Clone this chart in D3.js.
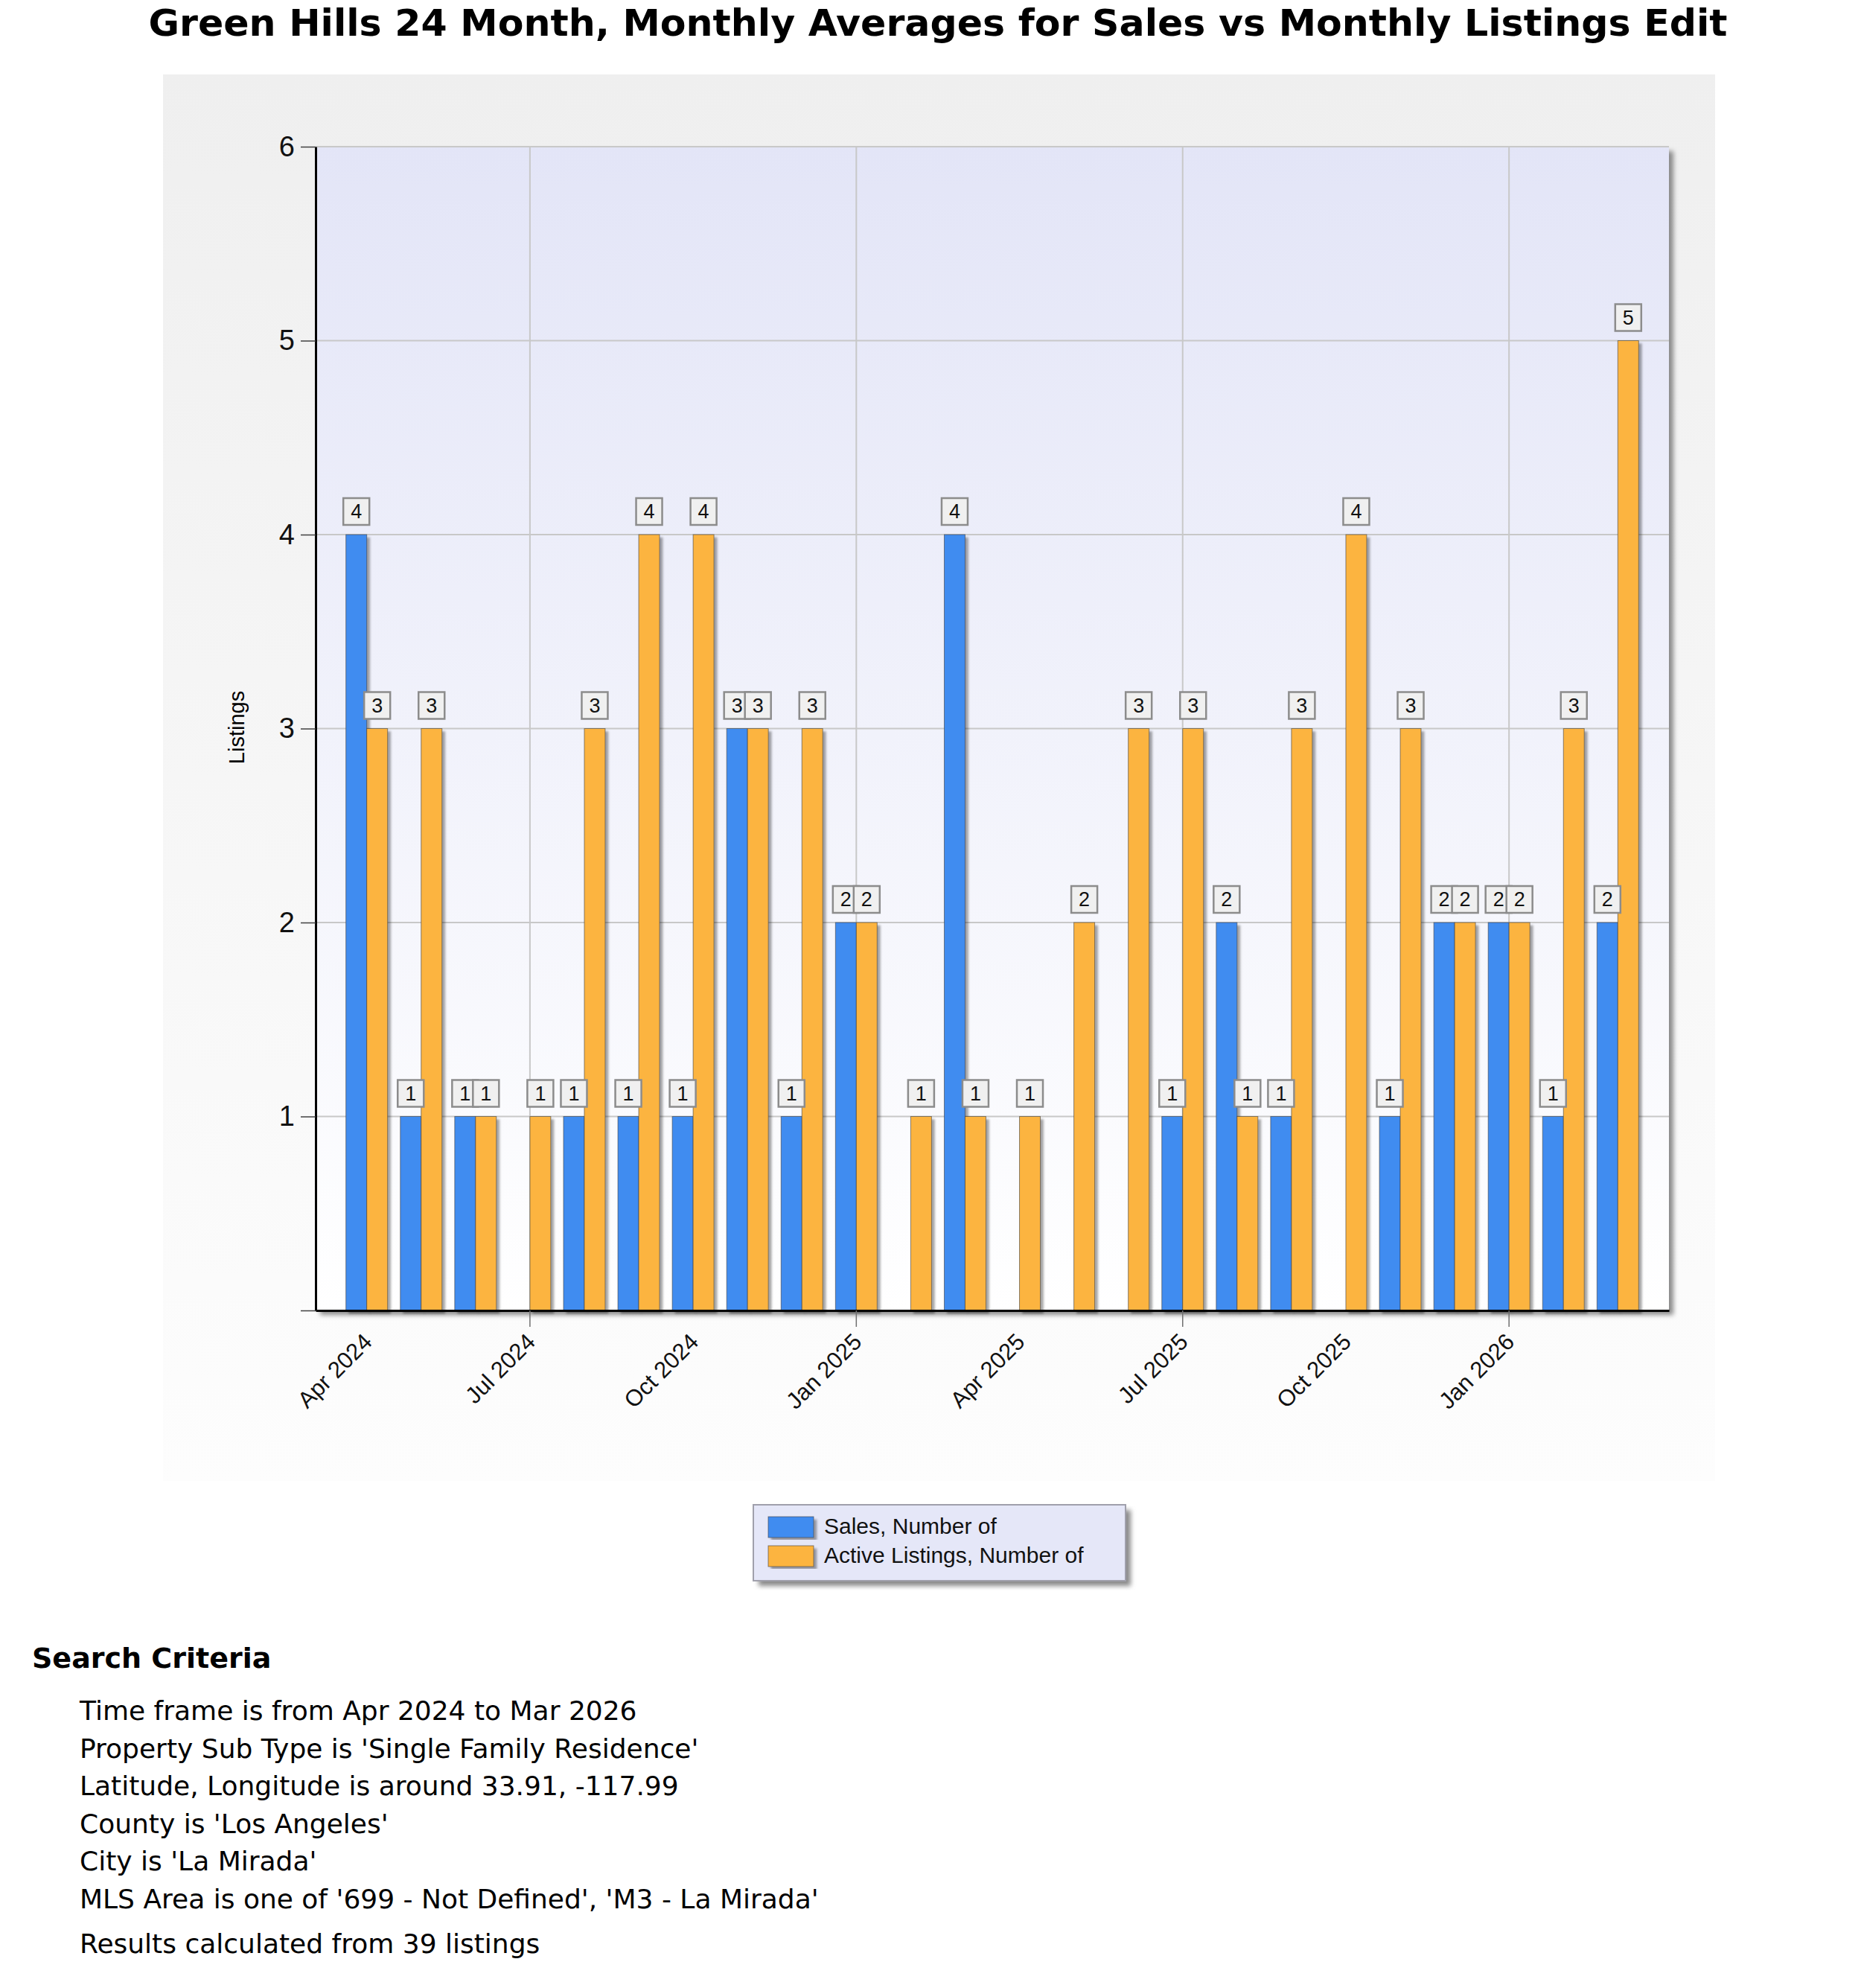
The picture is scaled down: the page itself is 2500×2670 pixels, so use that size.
<!DOCTYPE html>
<html>
<head>
<meta charset="utf-8">
<script src="https://cdn.jsdelivr.net/npm/d3@7"></script>
<style>
  body { margin: 0; background: #fff; }
  svg { display: block; }
</style>
</head>
<body>
<div id="chart"></div>
<script>
// ---------- data ----------
const months = [
  "Apr 2024", "May 2024", "Jun 2024", "Jul 2024", "Aug 2024", "Sep 2024",
  "Oct 2024", "Nov 2024", "Dec 2024", "Jan 2025", "Feb 2025", "Mar 2025",
  "Apr 2025", "May 2025", "Jun 2025", "Jul 2025", "Aug 2025", "Sep 2025",
  "Oct 2025", "Nov 2025", "Dec 2025", "Jan 2026", "Feb 2026", "Mar 2026"
];
const sales  = [4, 1, 1, 0, 1, 1, 1, 3, 1, 2, 0, 4, 0, 0, 0, 1, 2, 1, 0, 1, 2, 2, 1, 2];
const active = [3, 3, 1, 1, 3, 4, 4, 3, 3, 2, 1, 1, 1, 2, 3, 3, 1, 3, 4, 3, 2, 2, 3, 5];
const seriesNames = ["Sales, Number of", "Active Listings, Number of"];
const yTicks = [0, 1, 2, 3, 4, 5, 6];
const labelMonths = months.filter((m, i) => i % 3 === 0);
const gridMonths = months.filter((m, i) => i % 6 === 3);

const chartTitle = "Green Hills 24 Month, Monthly Averages for Sales vs Monthly Listings Edit";
const yTitle = "Listings";
const criteriaTitle = "Search Criteria";
const criteria = [
  "Time frame is from Apr 2024 to Mar 2026",
  "Property Sub Type is 'Single Family Residence'",
  "Latitude, Longitude is around 33.91, -117.99",
  "County is 'Los Angeles'",
  "City is 'La Mirada'",
  "MLS Area is one of '699 - Not Defined', 'M3 - La Mirada'"
];
const footnote = "Results calculated from 39 listings";

// ---------- layout ----------
const W = 2500, H = 2670;
const panel = { x: 219, y: 100, w: 2085, h: 1889 };
const plot = { left: 424, right: 2242, top: 197, bottom: 1760 };
const colors = ["#418CF0", "#FCB441"];
const sans = "Arial, 'Liberation Sans', sans-serif";
const verdana = "Verdana, 'DejaVu Sans', sans-serif";

const svg = d3.select("#chart").append("svg")
  .attr("width", W).attr("height", H)
  .attr("viewBox", `0 0 ${W} ${H}`);

const defs = svg.append("defs");
const pg = defs.append("linearGradient").attr("id", "panelGrad").attr("x1", 0).attr("y1", 0).attr("x2", 0).attr("y2", 1);
pg.append("stop").attr("offset", "0%").attr("stop-color", "#efefef");
pg.append("stop").attr("offset", "100%").attr("stop-color", "#fdfdfd");
const ag = defs.append("linearGradient").attr("id", "plotGrad").attr("x1", 0).attr("y1", 0).attr("x2", 0).attr("y2", 1);
ag.append("stop").attr("offset", "0%").attr("stop-color", "#e3e5f7");
ag.append("stop").attr("offset", "100%").attr("stop-color", "#ffffff");
defs.append("filter").attr("id", "blur").attr("x", "-5%").attr("y", "-5%").attr("width", "110%").attr("height", "110%")
  .append("feGaussianBlur").attr("stdDeviation", 3);
defs.append("filter").attr("id", "barShadow").attr("x", "-50%").attr("y", "-10%").attr("width", "200%").attr("height", "120%")
  .append("feDropShadow").attr("dx", 4).attr("dy", 4).attr("stdDeviation", 1.5)
  .attr("flood-color", "#000").attr("flood-opacity", 0.35);

// ---------- title ----------
const title = svg.append("text")
  .attr("x", 1260).attr("y", 48)
  .attr("text-anchor", "middle")
  .style("font-family", verdana).style("font-weight", "bold").style("font-size", "46px")
  .text(chartTitle);
// fit to the reference width
const tLen = title.node().getComputedTextLength();
title.style("font-size", (46 * 2122 / tLen).toFixed(1) + "px");

// ---------- panel + plot background ----------
svg.append("rect").attr("x", panel.x).attr("y", panel.y).attr("width", panel.w).attr("height", panel.h)
  .attr("fill", "url(#panelGrad)");

svg.append("rect")
  .attr("x", plot.left + 6).attr("y", plot.top + 6)
  .attr("width", plot.right - plot.left).attr("height", plot.bottom - plot.top)
  .attr("fill", "#8a8a8a").attr("filter", "url(#blur)");
svg.append("rect")
  .attr("x", plot.left).attr("y", plot.top)
  .attr("width", plot.right - plot.left).attr("height", plot.bottom - plot.top)
  .attr("fill", "url(#plotGrad)");

// ---------- scales ----------
const x0 = d3.scaleBand().domain(months).range([plot.left, plot.right])
  .paddingInner(0.234).paddingOuter(0.557);
const x1 = d3.scaleBand().domain([0, 1]).range([0, x0.bandwidth()]);
const y = d3.scaleLinear().domain([0, 6]).range([plot.bottom, plot.top]);

// ---------- grid ----------
const grid = svg.append("g").attr("stroke", "#c8c8c8").attr("stroke-width", 2);
grid.selectAll("line.h").data(yTicks.filter(d => d > 0)).join("line")
  .attr("class", "h")
  .attr("x1", plot.left).attr("x2", plot.right)
  .attr("y1", d => y(d)).attr("y2", d => y(d));
grid.selectAll("line.v").data(gridMonths).join("line")
  .attr("class", "v")
  .attr("x1", d => x0(d) + x0.bandwidth() / 2).attr("x2", d => x0(d) + x0.bandwidth() / 2)
  .attr("y1", plot.top).attr("y2", plot.bottom);

// ---------- bars ----------
const series = [sales, active];
series.forEach((vals, s) => {
  svg.append("g").attr("filter", "url(#barShadow)")
    .selectAll("rect").data(months.map((m, i) => ({ m, v: vals[i] })).filter(d => d.v > 0))
    .join("rect")
    .attr("x", d => x0(d.m) + x1(s))
    .attr("y", d => y(d.v))
    .attr("width", x1.bandwidth())
    .attr("height", d => y(0) - y(d.v))
    .attr("fill", colors[s])
    .attr("stroke", "rgba(60,60,60,0.6)").attr("stroke-width", 1);
});

// ---------- axes ----------
const yAxis = svg.append("g")
  .attr("transform", `translate(${plot.left},0)`)
  .call(d3.axisLeft(y).tickValues(yTicks).tickSize(20).tickSizeOuter(0).tickPadding(8)
    .tickFormat(d => d === 0 ? "" : d));
yAxis.select(".domain").attr("stroke", "#000").attr("stroke-width", 3);
yAxis.selectAll(".tick line").attr("stroke", "#404040").attr("stroke-width", 1.5);
yAxis.selectAll(".tick text").style("font-family", sans).style("font-size", "38px").attr("fill", "#111");

const xAxis = svg.append("g")
  .attr("transform", `translate(0,${plot.bottom})`)
  .call(d3.axisBottom(x0).tickValues(labelMonths).tickSize(22).tickSizeOuter(0));
xAxis.select(".domain").attr("stroke", "#000").attr("stroke-width", 3);
xAxis.selectAll(".tick line")
  .attr("stroke", "#707070").attr("stroke-width", 1.5)
  .attr("opacity", d => gridMonths.includes(d) ? 1 : 0);
xAxis.selectAll(".tick text")
  .attr("x", 0).attr("y", 0).attr("dy", 0)
  .attr("transform", "translate(9,44) rotate(-45)")
  .attr("text-anchor", "end")
  .style("font-family", sans).style("font-size", "31px").attr("fill", "#111");

svg.append("text")
  .attr("transform", "translate(318,977) rotate(-90)")
  .attr("text-anchor", "middle").attr("dominant-baseline", "central")
  .style("font-family", sans).style("font-size", "29px")
  .text(yTitle);

// ---------- value labels ----------
series.forEach((vals, s) => {
  const g = svg.append("g").selectAll("g")
    .data(months.map((m, i) => ({ m, v: vals[i] })).filter(d => d.v > 0))
    .join("g")
    .attr("transform", d => `translate(${x0(d.m) + x1(s) + x1.bandwidth() / 2},${y(d.v) - 31})`);
  g.append("rect")
    .attr("x", -17.5).attr("y", -18).attr("width", 35).attr("height", 36)
    .attr("fill", "#f0f0f0").attr("stroke", "#8c8c8c").attr("stroke-width", 2.5);
  g.append("text")
    .attr("text-anchor", "middle").attr("dominant-baseline", "central")
    .style("font-family", sans).style("font-size", "27px").attr("fill", "#111")
    .text(d => d.v);
});

// ---------- legend ----------
const legend = svg.append("g").attr("transform", "translate(1012,2021)");
legend.append("rect").attr("x", 7).attr("y", 7).attr("width", 500).attr("height", 102)
  .attr("fill", "#8a8a8a").attr("filter", "url(#blur)");
legend.append("rect").attr("width", 500).attr("height", 102)
  .attr("fill", "#e5e7f8").attr("stroke", "#a0a0ac").attr("stroke-width", 2);
const items = legend.selectAll("g.item").data(seriesNames).join("g")
  .attr("class", "item")
  .attr("transform", (d, i) => `translate(20,${16 + i * 39})`);
items.append("rect").attr("width", 61).attr("height", 28)
  .attr("fill", (d, i) => colors[i])
  .attr("stroke", "rgba(60,60,60,0.6)").attr("stroke-width", 1)
  .attr("filter", "url(#barShadow)");
items.append("text").attr("x", 75).attr("y", 23)
  .style("font-family", sans).style("font-size", "30px").attr("fill", "#111")
  .text(d => d);

// ---------- search criteria ----------
svg.append("text").attr("x", 43).attr("y", 2240)
  .style("font-family", verdana).style("font-weight", "bold").style("font-size", "38px")
  .text(criteriaTitle);
svg.append("g").selectAll("text").data(criteria).join("text")
  .attr("x", 107).attr("y", (d, i) => 2310 + i * 50.6)
  .style("font-family", verdana).style("font-size", "36px")
  .text(d => d);
svg.append("text").attr("x", 107).attr("y", 2623)
  .style("font-family", verdana).style("font-size", "36px")
  .text(footnote);
</script>
</body>
</html>
